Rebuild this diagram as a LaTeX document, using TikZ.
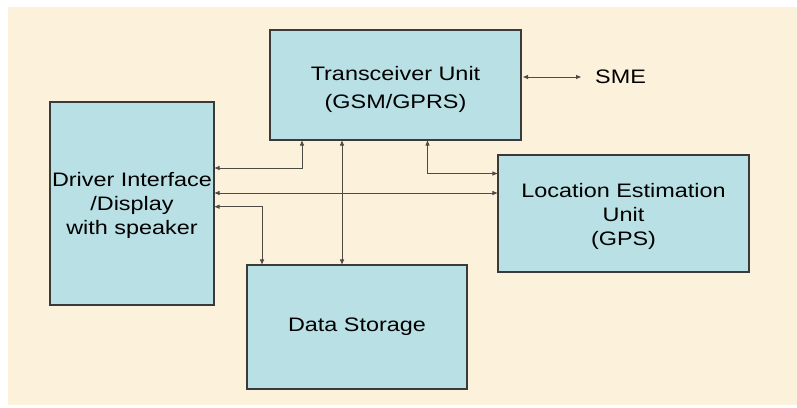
\documentclass[tikz,border=0pt]{standalone}
\usepackage{fontspec}
\setmainfont{Liberation Sans}[FakeStretch=1.2]
\usepackage{tikz}
\usetikzlibrary{arrows.meta,positioning,calc}
\usepackage{xcolor}
\definecolor{paper}{HTML}{FCF1DA}
\definecolor{boxfill}{HTML}{B9E0E4}
\definecolor{boxline}{HTML}{3A3A3A}
\definecolor{wire}{HTML}{4E4A44}

\begin{document}
\begin{tikzpicture}[x=1pt,y=-1pt,
    unit/.style={draw=boxline, line width=1.1pt, fill=boxfill, inner sep=0pt,
                 align=center, font=\fontsize{19.5}{24}\selectfont},
    link/.style={{Triangle[length=5pt,width=4pt]}-{Triangle[length=5pt,width=4pt]},
                 wire, line width=0.9pt}]
            % Page and background
            \useasboundingbox (0,0) rectangle (797,407);
            \fill[white] (0,0) rectangle (797,407);
            \fill[paper] (8,7) rectangle (797,405);

            % Units
            \node[unit, minimum width=251pt, minimum height=110pt] (trans) at (395.5,85)
                {\rule{0pt}{24pt}Transceiver Unit\\[4pt](GSM/GPRS)};
            \node[unit, minimum width=164pt, minimum height=203pt] (driver) at (132,203.5)
                {\rule{0pt}{18pt}Driver Interface\\/Display\\with speaker};
            \node[unit, minimum width=251pt, minimum height=117pt] (loc) at (623.5,213.5)
                {\rule{0pt}{20pt}Location Estimation\\Unit\\(GPS)};
            \node[unit, minimum width=220pt, minimum height=124pt] (store) at (357,327)
                {Data Storage};
            \node[anchor=west, inner sep=0pt, font=\fontsize{19.5}{24}\selectfont] (sme) at (595,77) {SME};

            % Links between units
            \coordinate (d1) at ([yshift=35.5pt]driver.east);
            \coordinate (d2) at ([yshift=10.5pt]driver.east);
            \coordinate (d3) at ([yshift=-3.2pt]driver.east);
            \coordinate (t1) at ([xshift=-93.5pt]trans.south);
            \coordinate (t2) at ([xshift=-53.5pt]trans.south);
            \coordinate (t3) at ([xshift=32pt]trans.south);
            \coordinate (l1) at ([yshift=40pt]loc.west);
            \coordinate (s1) at ([xshift=-95pt]store.north);

            \draw[link] (d1) -| (t1);
            \draw[link] (d2) -- (d2 -| loc.west);
            \draw[link] (d3) -| (s1);
            \draw[link] (t2) -- (t2 |- store.north);
            \draw[link] (t3) |- (l1);
            \draw[link] ([xshift=1.5pt]trans.east |- sme.west) -- ([xshift=-14pt]sme.west);
\end{tikzpicture}
\end{document}
